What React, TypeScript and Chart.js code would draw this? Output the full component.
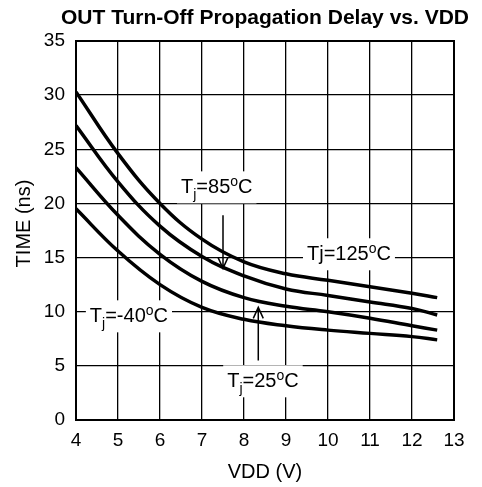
import React, { useEffect, useRef } from "react";
import { Chart, registerables } from "chart.js";
Chart.register(...registerables);

const vdd = [4, 5, 6, 7, 8, 9, 10, 11, 12, 12.6];
const tj125 = [30.3, 24.6, 20.0, 16.7, 14.6, 13.5, 12.9, 12.3, 11.7, 11.3];
const tj85 = [27.2, 22.0, 17.9, 15.1, 13.3, 12.1, 11.5, 10.9, 10.3, 9.7];
const tj25 = [23.3, 18.9, 15.3, 12.8, 11.3, 10.5, 10.0, 9.4, 8.7, 8.3];
const tjm40 = [19.5, 15.6, 12.5, 10.4, 9.3, 8.7, 8.3, 8.0, 7.7, 7.4];

const xTicks = [4, 5, 6, 7, 8, 9, 10, 11, 12, 13];
const yTicks = [0, 5, 10, 15, 20, 25, 30, 35];

const TITLE = "OUT Turn-Off Propagation Delay vs. VDD";
const X_TITLE = "VDD (V)";
const Y_TITLE = "TIME (ns)";

const FONT = '"Liberation Sans", Arial, sans-serif';

type Part = { t: string; k: "n" | "sub" | "sup" };
const labels: { x: number; y: number; parts: Part[] }[] = [
  { x: 6.5, y: 20.93, parts: [{ t: "T", k: "n" }, { t: "j", k: "sub" }, { t: "=85", k: "n" }, { t: "o", k: "sup" }, { t: "C", k: "n" }] },
  { x: 9.5, y: 14.75, parts: [{ t: "Tj=125", k: "n" }, { t: "o", k: "sup" }, { t: "C", k: "n" }] },
  { x: 4.33, y: 9.02, parts: [{ t: "T", k: "n" }, { t: "j", k: "sub" }, { t: "=-40", k: "n" }, { t: "o", k: "sup" }, { t: "C", k: "n" }] },
  { x: 7.6, y: 3.02, parts: [{ t: "T", k: "n" }, { t: "j", k: "sub" }, { t: "=25", k: "n" }, { t: "o", k: "sup" }, { t: "C", k: "n" }] },
];
const arrows = [
  { x: 7.5, y1: 18.9, y2: 14.0 },
  { x: 8.34, y1: 5.5, y2: 10.4 },
];

const annotPlugin = {
  id: "annot",
  beforeDatasetsDraw(chart: any) {
    const ctx = chart.ctx;
    const xs = chart.scales.x;
    const ys = chart.scales.y;
    ctx.save();
    for (const lb of labels) {
      const px = xs.getPixelForValue(lb.x);
      const py = ys.getPixelForValue(lb.y);
      let w = 0;
      for (const p of lb.parts) {
        ctx.font = `${p.k === "n" ? 20 : 14}px ${FONT}`;
        w += ctx.measureText(p.t).width;
      }
      ctx.fillStyle = "#fff";
      ctx.fillRect(px - 4, py - 22, w + 8, 32);
      ctx.fillStyle = "#000";
      ctx.textBaseline = "alphabetic";
      ctx.textAlign = "left";
      let cx = px;
      for (const p of lb.parts) {
        ctx.font = `${p.k === "n" ? 20 : 14}px ${FONT}`;
        const dy = p.k === "sub" ? 6 : p.k === "sup" ? -7 : 0;
        ctx.fillText(p.t, cx, py + dy);
        cx += ctx.measureText(p.t).width;
      }
    }
    ctx.strokeStyle = "#000";
    ctx.lineWidth = 1.5;
    for (const a of arrows) {
      const px = xs.getPixelForValue(a.x);
      const p1 = ys.getPixelForValue(a.y1);
      const p2 = ys.getPixelForValue(a.y2);
      const dir = p2 > p1 ? 1 : -1;
      ctx.beginPath();
      ctx.moveTo(px, p1);
      ctx.lineTo(px, p2);
      ctx.moveTo(px - 5, p2 - dir * 11);
      ctx.lineTo(px, p2);
      ctx.lineTo(px + 5, p2 - dir * 11);
      ctx.stroke();
    }
    ctx.restore();
  },
  afterDraw(chart: any) {
    const ctx = chart.ctx;
    const a = chart.chartArea;
    ctx.save();
    ctx.strokeStyle = "#000";
    ctx.lineWidth = 2;
    ctx.strokeRect(a.left, a.top, a.right - a.left, a.bottom - a.top);
    ctx.fillStyle = "#000";
    ctx.font = `bold 21px ${FONT}`;
    ctx.textAlign = "center";
    ctx.textBaseline = "middle";
    ctx.fillText(TITLE, (a.left + a.right) / 2, 18);
    ctx.font = `20px ${FONT}`;
    ctx.translate(24, (a.top + a.bottom) / 2 - 7);
    ctx.rotate(-Math.PI / 2);
    ctx.fillText(Y_TITLE, 0, 0);
    ctx.restore();
  },
};

export default function App() {
  const ref = useRef<HTMLCanvasElement | null>(null);
  useEffect(() => {
    if (!ref.current) return;
    const mk = (arr: number[]) => vdd.map((x, i) => ({ x, y: arr[i] }));
    const ds = (arr: number[]) => ({
      data: mk(arr),
      borderColor: "#000",
      borderWidth: 3.5,
      pointRadius: 0,
      fill: false,
      tension: 0.4,
    });
    const chart = new Chart(ref.current, {
      type: "line",
      data: { datasets: [ds(tj125), ds(tj85), ds(tj25), ds(tjm40)] },
      options: {
        animation: false,
        responsive: false,
        layout: { padding: { left: 8, top: 41, right: 28, bottom: 0 } },
        plugins: { legend: { display: false }, tooltip: { enabled: false }, title: { display: false } },
        scales: {
          x: {
            type: "linear",
            min: 4,
            max: 13,
            afterFit: (s: any) => { s.height = 67; },
            afterBuildTicks: (s: any) => { s.ticks = xTicks.map((v) => ({ value: v })); },
            ticks: { color: "#000", font: { family: FONT, size: 19 }, padding: 9, maxRotation: 0 },
            grid: { color: "#000", lineWidth: 1.3, drawTicks: false },
            border: { color: "#000", width: 2 },
            title: { display: true, text: X_TITLE, color: "#000", font: { family: FONT, size: 20 }, padding: { top: 0, bottom: 3 } },
          },
          y: {
            type: "linear",
            min: 0,
            max: 35,
            afterFit: (s: any) => { s.width = 68; },
            afterBuildTicks: (s: any) => { s.ticks = yTicks.map((v) => ({ value: v })); },
            ticks: { color: "#000", font: { family: FONT, size: 19 }, padding: 11 },
            grid: { color: "#000", lineWidth: 1.3, drawTicks: false },
            border: { color: "#000", width: 2 },
            title: { display: false },
          },
        },
      },
      plugins: [annotPlugin],
    });
    return () => chart.destroy();
  }, []);
  return (
    <div style={{ position: "fixed", left: 0, top: 0, width: 482, height: 487, background: "#fff" }}>
      <canvas ref={ref} width={482} height={487} style={{ width: 482, height: 487 }} />
    </div>
  );
}
